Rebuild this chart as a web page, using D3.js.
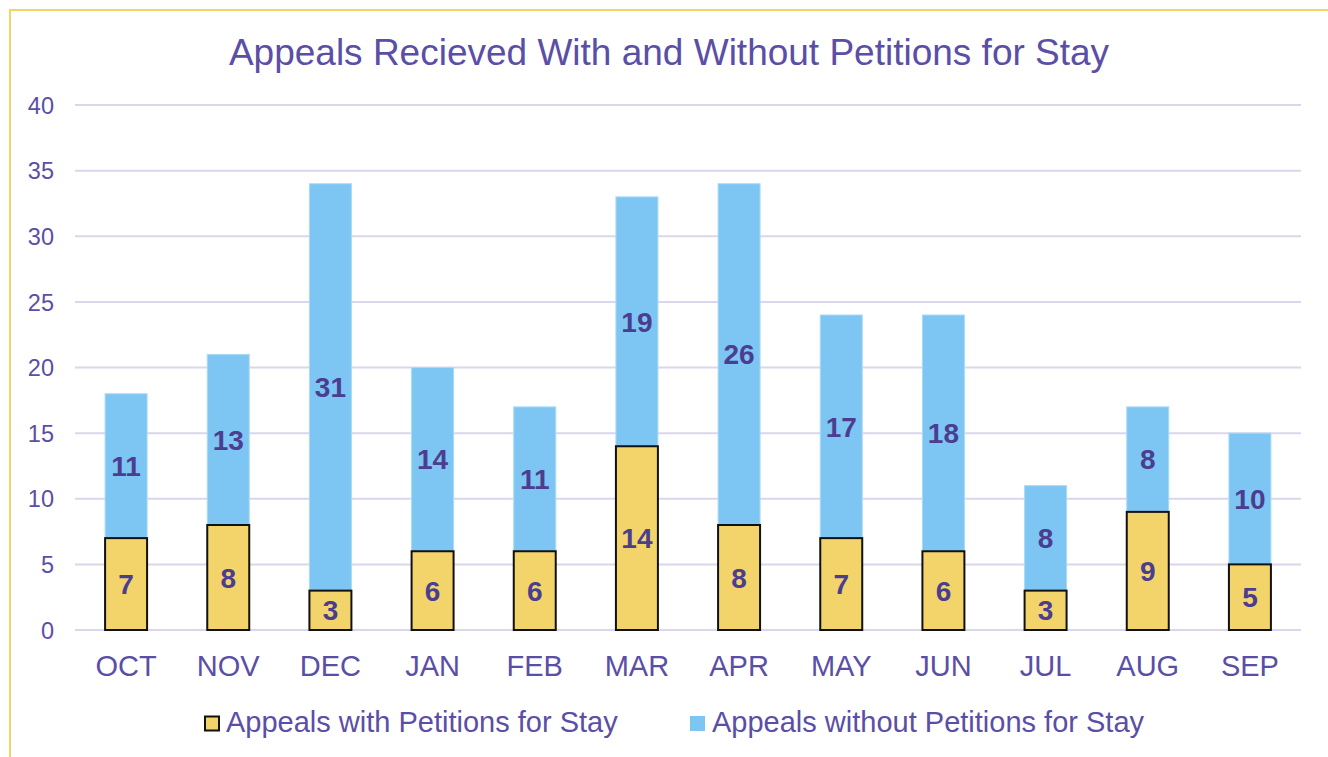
<!DOCTYPE html>
<html><head><meta charset="utf-8">
<script src="https://cdn.jsdelivr.net/npm/d3@7"></script>
<style>html,body{margin:0;padding:0;background:#fff;} svg{display:block;}</style>
</head><body>
<script>
const months = ["OCT","NOV","DEC","JAN","FEB","MAR","APR","MAY","JUN","JUL","AUG","SEP"];
const withStay = [7,8,3,6,6,14,8,7,6,3,9,5];
const withoutStay = [11,13,31,14,11,19,26,17,18,8,8,10];
const yTicks = [0,5,10,15,20,25,30,35,40];
const seriesNames = ["Appeals with Petitions for Stay","Appeals without Petitions for Stay"];
const title = "Appeals Recieved With and Without Petitions for Stay";

const W = 1328, H = 757;
const textCol = "#5B4EA6", labelCol = "#4B3D8F";
const yellow = "#F2D46B", blue = "#7DC5F2";
const font = "'Liberation Sans', Arial, sans-serif";

const svg = d3.select("body").append("svg").attr("width", W).attr("height", H);

// border
svg.append("rect").attr("x",10).attr("y",10).attr("width",1400).attr("height",900)
  .attr("fill","none").attr("stroke","#F2D46B").attr("stroke-width",2);

const x = d3.scaleBand().domain(months).range([75,1301]).paddingInner(0.589).paddingOuter(0.2945);
const y = d3.scaleLinear().domain([0,40]).range([630,105]);

// gridlines
svg.append("g").selectAll("line").data(yTicks).join("line")
  .attr("x1",75).attr("x2",1301).attr("y1",d=>y(d)).attr("y2",d=>y(d))
  .attr("stroke","#DAD6EC").attr("stroke-width",2);

// y axis labels
const yAxis = d3.axisLeft(y).tickValues(yTicks).tickSize(0).tickPadding(0);
const yg = svg.append("g").attr("transform","translate(54,0)").call(yAxis);
yg.select(".domain").remove();
yg.selectAll("text").attr("fill",textCol).attr("font-size","23.5px").attr("font-family",font).attr("dy","0.35em");

// x axis labels
const xAxis = d3.axisBottom(x).tickSize(0).tickPadding(0);
const xg = svg.append("g").attr("transform","translate(0,676)").call(xAxis);
xg.select(".domain").remove();
xg.selectAll("text").attr("fill",textCol).attr("font-size","29px").attr("font-family",font).attr("dy","0");

const data = months.map((m,i)=>({m, a:withStay[i], b:withoutStay[i]}));

// blue segments
svg.append("g").selectAll("rect").data(data).join("rect")
  .attr("x",d=>x(d.m)).attr("width",x.bandwidth())
  .attr("y",d=>y(d.a+d.b)).attr("height",d=>y(d.a)-y(d.a+d.b))
  .attr("fill",blue).attr("stroke","#A9DAF7").attr("stroke-width",1);

// yellow segments
svg.append("g").selectAll("rect").data(data).join("rect")
  .attr("x",d=>x(d.m)).attr("width",x.bandwidth())
  .attr("y",d=>y(d.a)).attr("height",d=>y(0)-y(d.a))
  .attr("fill",yellow).attr("stroke","#111").attr("stroke-width",2);

// labels
const lab = svg.append("g").attr("font-family",font).attr("font-weight","bold")
  .attr("font-size","28px").attr("fill",labelCol).attr("text-anchor","middle");
lab.selectAll("text.a").data(data).join("text").attr("class","a")
  .attr("x",d=>x(d.m)+x.bandwidth()/2).attr("y",d=>(y(0)+y(d.a))/2).attr("dy","0.36em").text(d=>d.a);
lab.selectAll("text.b").data(data).join("text").attr("class","b")
  .attr("x",d=>x(d.m)+x.bandwidth()/2).attr("y",d=>(y(d.a)+y(d.a+d.b))/2).attr("dy","0.36em").text(d=>d.b);

// title
svg.append("text").attr("x",669).attr("y",65).attr("text-anchor","middle")
  .attr("font-family",font).attr("font-size","37px").attr("fill",textCol).text(title);

// legend
const lg = svg.append("g").attr("font-family",font).attr("font-size","29px").attr("fill",textCol);
lg.append("rect").attr("x",205).attr("y",716.5).attr("width",14).attr("height",14)
  .attr("fill",yellow).attr("stroke","#111").attr("stroke-width",2);
lg.append("text").attr("x",226).attr("y",732).text(seriesNames[0]);
lg.append("rect").attr("x",690).attr("y",716).attr("width",15).attr("height",15).attr("fill",blue);
lg.append("text").attr("x",712).attr("y",732).text(seriesNames[1]);
</script>
</body></html>
